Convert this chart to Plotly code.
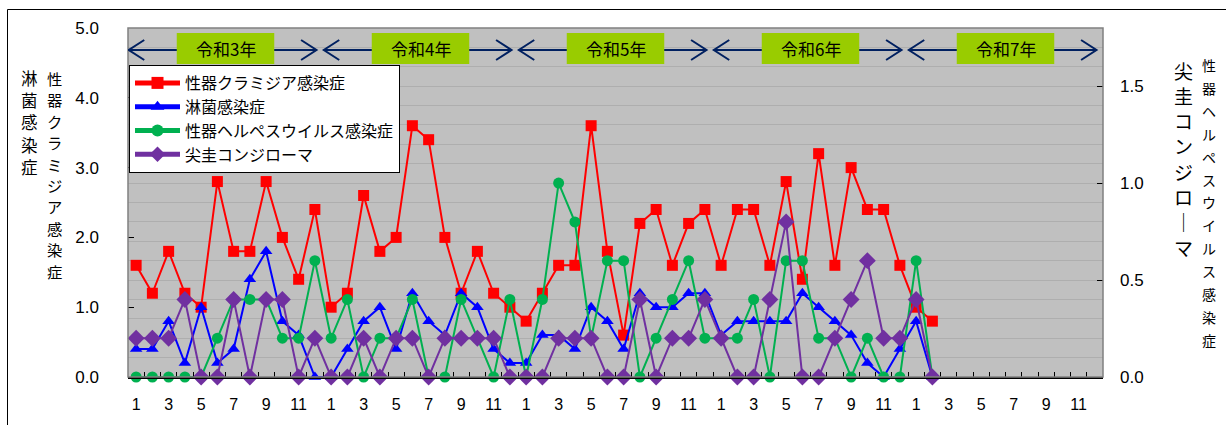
import plotly.graph_objects as go

# ---------------- data ----------------
years = ["令和3年", "令和4年", "令和5年", "令和6年", "令和7年"]
months = [1, 2, 3, 4, 5, 6, 7, 8, 9, 10, 11, 12]
tick_months = [1, 3, 5, 7, 9, 11]

chlamydia = [1.6, 1.2, 1.8, 1.2, 1.0, 2.8, 1.8, 1.8, 2.8, 2.0, 1.4, 2.4,
             1.0, 1.2, 2.6, 1.8, 2.0, 3.6, 3.4, 2.0, 1.2, 1.8, 1.2, 1.0,
             0.8, 1.2, 1.6, 1.6, 3.6, 1.8, 0.6, 2.2, 2.4, 1.6, 2.2, 2.4,
             1.6, 2.4, 2.4, 1.6, 2.8, 1.4, 3.2, 1.6, 3.0, 2.4, 2.4, 1.6,
             1.0, 0.8]
gonorrhea = [0.4, 0.4, 0.8, 0.2, 1.0, 0.2, 0.4, 1.4, 1.8, 0.8, 0.6, 0.0,
             0.0, 0.4, 0.8, 1.0, 0.4, 1.2, 0.8, 0.6, 1.2, 1.0, 0.4, 0.2,
             0.2, 0.6, 0.6, 0.4, 1.0, 0.8, 0.4, 1.2, 1.0, 1.0, 1.2, 1.2,
             0.6, 0.8, 0.8, 0.8, 0.8, 1.2, 1.0, 0.8, 0.6, 0.2, 0.0, 0.4,
             0.8, 0.0]
herpes = [0.0, 0.0, 0.0, 0.0, 0.0, 0.2, 0.4, 0.4, 0.4, 0.2, 0.2, 0.6,
          0.2, 0.4, 0.0, 0.2, 0.2, 0.4, 0.0, 0.0, 0.4, 0.2, 0.0, 0.4,
          0.0, 0.4, 1.0, 0.8, 0.2, 0.6, 0.6, 0.0, 0.2, 0.4, 0.6, 0.2,
          0.2, 0.2, 0.4, 0.0, 0.6, 0.6, 0.2, 0.2, 0.0, 0.2, 0.0, 0.0,
          0.6, 0.0]
condyloma = [0.2, 0.2, 0.2, 0.4, 0.0, 0.0, 0.4, 0.0, 0.4, 0.4, 0.0, 0.2,
             0.0, 0.0, 0.2, 0.0, 0.2, 0.2, 0.0, 0.2, 0.2, 0.2, 0.2, 0.0,
             0.0, 0.0, 0.2, 0.2, 0.2, 0.0, 0.0, 0.4, 0.0, 0.2, 0.2, 0.4,
             0.2, 0.0, 0.0, 0.4, 0.8, 0.0, 0.0, 0.2, 0.4, 0.6, 0.2, 0.2,
             0.4, 0.0]

names = ["性器クラミジア感染症", "淋菌感染症", "性器ヘルペスウイルス感染症", "尖圭コンジローマ"]
left_title_1 = "淋菌感染症"
left_title_2 = "性器クラミジア感染症"
right_title_1 = "尖圭コンジローマ"
right_title_2 = "性器ヘルペスウイルス感染症"

n_months = len(years) * len(months)
x_all = list(range(n_months))
tickvals = [yi * 12 + (m - 1) for yi in range(len(years)) for m in tick_months]
ticktext = [str(m) for yi in range(len(years)) for m in tick_months]

# ---------------- geometry helpers ----------------
W, H = 1226, 425
L, R, T, B = 128, 123, 28, 48
PW, PH = W - L - R, H - T - B


def px_x(p):
    return (p - L) / PW


def px_y(p):
    return (H - B - p) / PH


FONT = "Liberation Sans, Arial, Noto Sans CJK JP, sans-serif"
JFONT = "Noto Sans CJK JP, sans-serif"

fig = go.Figure()

styles = [
    dict(color="#FF0000", symbol="square", size=11, y=chlamydia, axis="y"),
    dict(color="#0000FF", symbol="triangle-up", size=11, y=gonorrhea, axis="y"),
    dict(color="#00B050", symbol="circle", size=11, y=herpes, axis="y2"),
    dict(color="#7030A0", symbol="diamond", size=13, y=condyloma, axis="y2"),
]
for nm, st in zip(names, styles):
    fig.add_trace(go.Scatter(
        x=x_all[:len(st["y"])], y=st["y"], name=nm, yaxis=st["axis"],
        mode="lines+markers", cliponaxis=False,
        line=dict(color=st["color"], width=2),
        marker=dict(symbol=st["symbol"], size=st["size"], color=st["color"]),
    ))

shapes = []
annotations = []

# outer frame (left + top)
shapes.append(dict(type="path", xref="paper", yref="paper",
                   path=f"M {px_x(7.5)},{px_y(430)} L {px_x(7.5)},{px_y(9.5)} L {px_x(1230)},{px_y(9.5)}",
                   line=dict(color="#000000", width=1)))
# plot area border
shapes.append(dict(type="rect", xref="paper", yref="paper", x0=0, x1=1, y0=0, y1=1,
                   line=dict(color="#808080", width=1.5), layer="above"))

# year band
ay = px_y(50)
dy = 10 / PH
for yi, yname in enumerate(years):
    s = yi * 12 - 0.5
    e = s + 12
    lt = s + 0.05
    rt = e - 0.4
    arm = 0.95
    shapes.append(dict(type="line", xref="x", yref="paper", x0=lt, x1=rt, y0=ay, y1=ay,
                       line=dict(color="#002060", width=2)))
    shapes.append(dict(type="path", xref="x", yref="paper",
                       path=f"M {lt+arm},{ay+dy} L {lt},{ay} L {lt+arm},{ay-dy}",
                       line=dict(color="#002060", width=2)))
    shapes.append(dict(type="path", xref="x", yref="paper",
                       path=f"M {rt-arm},{ay+dy} L {rt},{ay} L {rt-arm},{ay-dy}",
                       line=dict(color="#002060", width=2)))
    c = (s + e) / 2
    shapes.append(dict(type="rect", xref="x", yref="paper", x0=c - 3.0, x1=c + 3.0,
                       y0=px_y(64), y1=px_y(33), fillcolor="#99CC00", line=dict(width=0)))
    annotations.append(dict(x=c, y=px_y(48.5), xref="x", yref="paper", text=yname,
                            showarrow=False, xanchor="center", yanchor="middle",
                            font=dict(family=JFONT, size=17, color="#000000")))


def vchars(chars, xc, y0, step, size):
    for k, ch in enumerate(chars):
        if ch == "ー":
            ch = "｜"
        annotations.append(dict(x=px_x(xc), y=px_y(y0 + k * step), xref="paper", yref="paper",
                                text=ch, showarrow=False, xanchor="center", yanchor="middle",
                                borderpad=0,
                                font=dict(family=JFONT, size=size, color="#000000")))


vchars(left_title_1, 29, 78, 22.2, 16.5)
vchars(left_title_2, 54, 78, 21.4, 15.3)
vchars(right_title_1, 1183, 70, 25.3, 19)
vchars(right_title_2, 1209, 65, 22.9, 14)

fig.update_layout(
    width=W, height=H,
    margin=dict(l=L, r=R, t=T, b=B, pad=0),
    paper_bgcolor="#FFFFFF",
    plot_bgcolor="#C0C0C0",
    font=dict(family=FONT, size=16, color="#000000"),
    showlegend=True,
    legend=dict(x=px_x(129), y=px_y(65), xanchor="left", yanchor="top",
                bgcolor="#FFFFFF", bordercolor="#000000", borderwidth=1,
                font=dict(family=JFONT, size=16, color="#000000"),
                tracegroupgap=0, itemsizing="constant", itemwidth=45),
    xaxis=dict(range=[-0.5, n_months - 0.5], tickmode="array", tickvals=tickvals, ticktext=ticktext,
               ticks="", showgrid=False, zeroline=False, showline=True, linecolor="#000000", linewidth=1.5,
               ticklabelstandoff=12, tickfont=dict(family=FONT, size=16),
               minor=dict(tickmode="array", tickvals=[k - 0.5 for k in range(1, n_months)],
                          ticks="inside", ticklen=5, tickcolor="#000000", tickwidth=1, showgrid=False)),
    yaxis=dict(range=[0, 5], dtick=1, tickformat=".1f", ticks="inside", ticklen=6, tickcolor="#000000",
               showgrid=False, zeroline=False, showline=False, ticklabelstandoff=28,
               tickfont=dict(family=FONT, size=17)),
    yaxis2=dict(range=[0, 1.8], overlaying="y", side="right", tickvals=[0, 0.5, 1.0, 1.5],
                tickformat=".1f", ticks="inside", ticklen=6, tickcolor="#000000",
                showgrid=True, gridcolor="#AEAEAE", gridwidth=1, zeroline=False, showline=False,
                ticklabelstandoff=16, tickfont=dict(family=FONT, size=17),
                minor=dict(dtick=0.1, showgrid=True, gridcolor="#AEAEAE", gridwidth=1)),
    shapes=shapes,
    annotations=annotations,
)

fig.write_html("out.html", config={"displayModeBar": False},
               post_script="document.body.style.margin='0px';")
